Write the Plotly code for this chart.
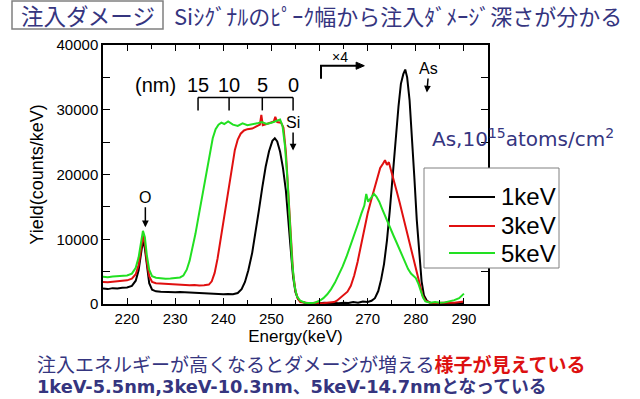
import plotly.graph_objects as go

# ---------------- data ----------------
energy_1kev = [215, 216, 217, 218, 219, 220, 221, 221.8, 222.4, 222.9, 223.3, 223.7, 224.1, 224.6, 225.2,
               226, 227, 228, 229, 230, 231, 232, 233, 234, 235, 236, 237, 238, 239, 240, 241, 242,
               243, 243.8, 244.5, 245.2, 246, 246.7, 247.4, 248.1, 248.8, 249.5, 250.2, 250.7, 251.2,
               251.8, 252.4, 253, 253.5, 254, 254.5, 255, 255.5, 256, 257, 258, 259, 260, 261, 262,
               263, 264, 265, 266, 267, 268, 269, 270, 270.8, 271.5, 272.2, 272.8, 273.4, 274, 274.6,
               275.2, 275.8, 276.4, 276.9, 277.4, 277.8, 278.2, 278.7, 279.2, 279.7, 280.2, 280.7,
               281.2, 281.7, 282.3, 283, 284, 285, 286, 287, 288, 289, 290]
yield_1kev = [2400, 2300, 2450, 2400, 2500, 2550, 2800, 3600, 5200, 8000, 9800, 8600, 5800, 3200, 2200,
              1950, 1900, 1850, 1900, 1800, 1850, 1800, 1750, 1800, 1700, 1700, 1650, 1600, 1550, 1500,
              1550, 1500, 1700, 2300, 3400, 5200, 7900, 11000, 14500, 18000, 21200, 23600, 25200, 25600,
              25100, 23500, 21000, 17500, 13500, 8500, 4200, 1800, 800, 400, 200, 100, 150, 100, 200,
              100, 150, 100, 200, 150, 300, 200, 400, 300, 500, 900, 2000, 3800, 6200, 9800, 14500,
              20000, 25500, 30500, 34000, 35500, 36200, 35000, 31500, 26000, 19500, 13000, 7500, 3500,
              1300, 500, 200, 100, 150, 100, 200, 100, 150, 100]

energy_3kev = [215, 216, 217, 218, 219, 220, 221, 221.8, 222.4, 222.9, 223.3, 223.7, 224.1, 224.6, 225.2,
               226, 227, 228, 229, 230, 231, 232, 233, 234, 235, 236, 237, 237.6, 238.2, 238.8, 239.4,
               240, 240.6, 241.2, 241.8, 242.4, 243, 243.6, 244.3, 245, 246, 247, 247.6, 247.9, 248.2,
               249, 249.8, 250.5, 250.8, 251.2, 252, 252.5, 253, 253.5, 254, 254.5, 255, 255.5, 256,
               257, 258, 259, 260, 261, 262, 263, 263.6, 264.3, 265, 265.8, 266.5, 267.2, 267.9, 268.6,
               269.3, 270, 270.7, 271.4, 272, 272.6, 273.2, 273.6, 274, 274.4, 274.9, 275.5, 276, 276.6,
               277.2, 277.8, 278.4, 279, 279.6, 280.2, 280.8, 281.4, 282, 283, 284, 285, 286, 287, 288,
               289, 290]
yield_3kev = [3400, 3350, 3450, 3500, 3550, 3650, 3900, 4600, 6000, 8700, 10500, 9300, 6600, 4300, 3400,
              3200, 3150, 3100, 3050, 3000, 3050, 2950, 2900, 2950, 2850, 2900, 3000, 3500, 4800, 7000,
              9800, 12800, 15800, 18800, 21500, 23800, 25400, 26300, 26800, 27000, 27100, 27400, 27700,
              29200, 27600, 27800, 28000, 28200, 28900, 28100, 28000, 27200, 23500, 17000, 10000, 4800,
              2000, 800, 300, 150, 100, 200, 100, 150, 200, 300, 500, 900, 1300, 1900, 2800, 4400, 6500,
              9000, 11700, 14000, 16000, 18000, 19700, 21000, 21700, 22200, 21500, 21900, 20500, 19000,
              17500, 15800, 14000, 12000, 10000, 8300, 6700, 4800, 2800, 1300, 500, 200, 150, 200, 150,
              250, 200, 300, 400]

energy_5kev = [215, 216, 217, 218, 219, 220, 221, 221.8, 222.4, 222.9, 223.3, 223.7, 224.1, 224.6, 225.2,
               226, 227, 228, 229, 230, 231, 231.7, 232.4, 233, 233.6, 234.2, 234.8, 235.4, 236, 236.6,
               237.2, 237.8, 238.4, 239, 239.6, 240.2, 241, 242, 243, 244, 245, 246, 247, 248, 249, 250,
               251, 251.8, 252.3, 252.8, 253.3, 253.8, 254.3, 254.8, 255.3, 256, 257, 258, 259, 260,
               260.8, 261.6, 262.4, 263.2, 264, 264.8, 265.6, 266.4, 267.2, 268, 268.7, 269.3, 269.7,
               270.1, 270.7, 271.3, 271.8, 272.4, 273, 273.6, 274.2, 274.8, 275.4, 276, 276.6, 277.2,
               277.8, 278.4, 279, 279.6, 280, 280.5, 281, 281.5, 282, 283, 284, 285, 286, 287, 288, 289,
               290]
yield_5kev = [4200, 4150, 4250, 4300, 4350, 4400, 4700, 5600, 7200, 9800, 11300, 10300, 7600, 5300, 4300,
              4050, 3950, 3900, 3950, 4000, 4100, 4400, 5300, 6700, 8600, 10800, 13300, 15800, 18300,
              21000, 23500, 25600, 27000, 27700, 28000, 27800, 28200, 27700, 27500, 27900, 27600, 27700,
              27900, 28100, 27800, 28000, 28300, 28500, 27500, 24500, 19500, 13000, 6500, 2800, 1200,
              500, 200, 150, 200, 500, 900, 1500, 2300, 3300, 4500, 5800, 7300, 8900, 10600, 12400,
              14000, 15200, 17000, 15800, 16400, 17000, 16600, 15800, 14700, 13600, 12600, 11500, 10500,
              9500, 8500, 7400, 6300, 5400, 4700, 4300, 4000, 3200, 2000, 1000, 400, 200, 300, 200, 250,
              400, 600, 900, 1600]

series_names = ["1keV", "3keV", "5keV"]
series_colors = ["#000000", "#e01010", "#22e022"]

depth_labels = ["15", "10", "5", "0"]
depth_energy = [234.75, 241.2, 248.1, 254.5]

x_ticks = [220, 230, 240, 250, 260, 270, 280, 290]
y_ticks = [0, 10000, 20000, 30000, 40000]

# ---------------- geometry helpers (pixel -> paper) ----------------
L, R, T, B = 103, 488, 45, 304
W, H = R - L, B - T


def px(xp):
    return (xp - L) / W


def py(yp):
    return (B - yp) / H


NAVY = "#35357f"
AX_FONT = "Arial, Liberation Sans, sans-serif"
JP_FONT = "Noto Sans CJK JP"

fig = go.Figure()
for e, y, n, c in zip([energy_1kev, energy_3kev, energy_5kev],
                      [yield_1kev, yield_3kev, yield_5kev],
                      series_names, series_colors):
    fig.add_trace(go.Scatter(x=e, y=y, mode="lines", name=n, showlegend=False,
                             line=dict(color=c, width=2)))

fig.update_layout(
    width=640, height=399,
    margin=dict(l=L, r=640 - R, t=T, b=399 - B),
    paper_bgcolor="white", plot_bgcolor="white",
    font=dict(family=AX_FONT, color="black"),
)

fig.update_xaxes(range=[215, 295], tickvals=x_ticks, ticktext=[str(v) for v in x_ticks],
                 ticks="inside", ticklen=6,
                 tickwidth=1, tickcolor="black", showline=True, linecolor="black",
                 linewidth=1.5, mirror="allticks", showgrid=False, zeroline=False,
                 tickfont=dict(size=15, family=AX_FONT),
                 minor=dict(dtick=5, tick0=215, ticks="inside", ticklen=4, tickcolor="black"),
                 title=dict(text="Energy(keV)", font=dict(size=17), standoff=2))
fig.update_yaxes(range=[0, 40000], tickvals=y_ticks, ticktext=[str(v) for v in y_ticks],
                 ticks="inside", ticklen=7,
                 tickwidth=1, tickcolor="black", showline=True, linecolor="black",
                 linewidth=1.5, mirror="allticks", showgrid=False, zeroline=False,
                 tickfont=dict(size=15, family=AX_FONT),
                 minor=dict(dtick=5000, ticks="inside", ticklen=7, tickcolor="black"),
                 title=dict(text="Yield(counts/keV)", font=dict(size=18), standoff=8))

shapes = []
annotations = []

# title box
shapes.append(dict(type="rect", xref="paper", yref="paper", x0=px(12), x1=px(163),
                   y0=py(29), y1=py(1), line=dict(color="#808080", width=1.5),
                   fillcolor="rgba(0,0,0,0)"))
annotations.append(dict(xref="paper", yref="paper", x=px(87.5), y=py(15), text="注入ダメージ",
                        showarrow=False, xanchor="center", yanchor="middle",
                        font=dict(family=JP_FONT, size=22.5, color=NAVY)))
annotations.append(dict(xref="paper", yref="paper", x=px(172), y=py(15),
                        text="Siｼｸﾞﾅﾙのﾋﾟｰｸ幅から注入ﾀﾞﾒｰｼﾞ深さが分かる",
                        showarrow=False, xanchor="left", yanchor="middle",
                        font=dict(family=JP_FONT, size=22, color=NAVY)))

# legend (drawn manually inside a framed box)
shapes.append(dict(type="rect", xref="paper", yref="paper", x0=px(424), x1=px(559),
                   y0=py(268), y1=py(168), line=dict(color="#808080", width=1),
                   fillcolor="white", layer="above"))
legend_rows = [197, 226, 253]
for yrow, n, c in zip(legend_rows, series_names, series_colors):
    shapes.append(dict(type="line", xref="paper", yref="paper", x0=px(449), x1=px(495),
                       y0=py(yrow), y1=py(yrow), line=dict(color=c, width=2), layer="above"))
    annotations.append(dict(xref="paper", yref="paper", x=px(499), y=py(yrow), text=n,
                            showarrow=False, xanchor="left", yanchor="middle",
                            font=dict(family=AX_FONT, size=24, color="black")))

# depth scale
y_line, y_tick = 31900, 29900
shapes.append(dict(type="line", xref="x", yref="y", x0=depth_energy[0], x1=depth_energy[-1],
                   y0=y_line, y1=y_line, line=dict(color="black", width=1.5)))
for e in depth_energy:
    shapes.append(dict(type="line", xref="x", yref="y", x0=e, x1=e, y0=y_tick, y1=y_line,
                       line=dict(color="black", width=1.5)))
for e, lab in zip(depth_energy, depth_labels):
    annotations.append(dict(x=e, y=33800, text=lab, showarrow=False, xanchor="center",
                            yanchor="middle", font=dict(size=20, family=AX_FONT)))
annotations.append(dict(x=230.6, y=33800, text="(nm)", showarrow=False, xanchor="right",
                        yanchor="middle", font=dict(size=20, family=AX_FONT)))

# element markers with arrows
annotations.append(dict(x=254.5, y=23700, text="Si", showarrow=True, ax=0, ay=-28,
                        arrowhead=2, arrowsize=0.9, arrowwidth=1.5, arrowcolor="black",
                        font=dict(size=16, family=AX_FONT)))
annotations.append(dict(x=223.8, y=11860, text="O", showarrow=True, ax=0, ay=-30,
                        arrowhead=2, arrowsize=0.9, arrowwidth=1.5, arrowcolor="black",
                        font=dict(size=16, family=AX_FONT)))
annotations.append(dict(x=282.3, y=32670, text="As", showarrow=True, ax=2, ay=-24,
                        arrowhead=2, arrowsize=0.9, arrowwidth=1.5, arrowcolor="black",
                        font=dict(size=16, family=AX_FONT)))

# x4 bracket with arrow head
shapes.append(dict(type="path", xref="x", yref="y",
                   path="M260.3,34800 L260.3,36800 L268.4,36800",
                   line=dict(color="black", width=2)))
shapes.append(dict(type="path", xref="x", yref="y",
                   path="M267.6,37350 L269.3,36800 L267.6,36250 Z",
                   line=dict(color="black", width=1), fillcolor="black"))
annotations.append(dict(x=264.3, y=38100, text="×4", showarrow=False,
                        font=dict(size=14, family=AX_FONT)))

# dose text
annotations.append(dict(xref="paper", yref="paper", x=px(430), y=py(138),
                        text="As,10<sup>15</sup>atoms/cm<sup>2</sup>", showarrow=False,
                        xanchor="left", yanchor="middle",
                        font=dict(family="DejaVu Sans", size=20, color=NAVY)))

# bottom comments
annotations.append(dict(xref="paper", yref="paper", x=px(35), y=py(363),
                        text="注入エネルギーが高くなるとダメージが増える"
                             "<b><span style='color:#dd1111'>様子が見えている</span></b>",
                        showarrow=False, xanchor="left", yanchor="middle",
                        font=dict(family=JP_FONT, size=19, color=NAVY)))
annotations.append(dict(xref="paper", yref="paper", x=px(35), y=py(386),
                        text="<b>1keV-5.5nm,3keV-10.3nm、5keV-14.7nmとなっている</b>",
                        showarrow=False, xanchor="left", yanchor="middle",
                        font=dict(family="DejaVu Sans, " + JP_FONT, size=17.8, color=NAVY)))

fig.update_layout(shapes=shapes, annotations=annotations)
fig.write_html("out.html", config={"displayModeBar": False},
               post_script="document.body.style.margin='0px';document.body.style.padding='0px';")
